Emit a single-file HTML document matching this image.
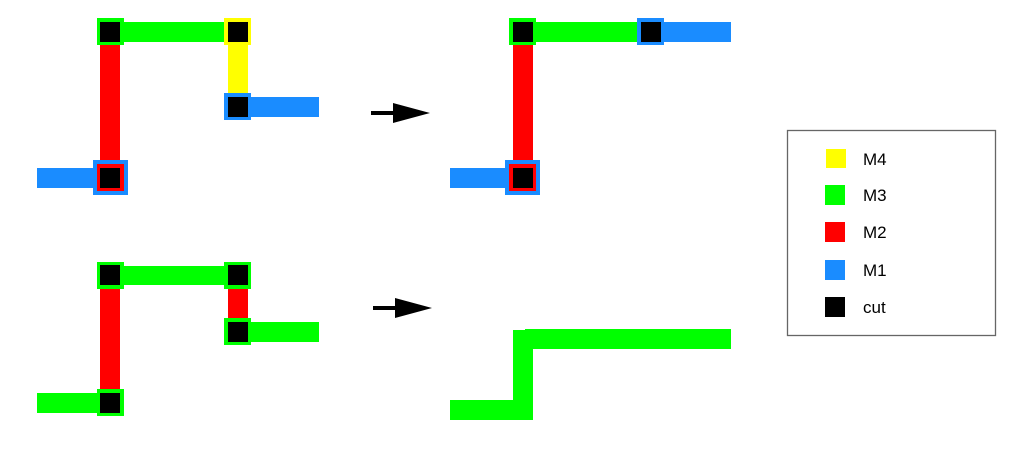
<!DOCTYPE html>
<html><head><meta charset="utf-8"><style>
html,body{margin:0;padding:0;background:#fff;width:1013px;height:453px;overflow:hidden}
svg{display:block}
text{font-family:"Liberation Sans",sans-serif;font-size:17px;fill:#000}
</style></head><body>
<svg width="1013" height="453" viewBox="0 0 1013 453" xmlns="http://www.w3.org/2000/svg">
<!-- top-left -->
<rect x="100" y="44" width="20" height="120" fill="#f00"/>
<rect x="120" y="22" width="106" height="20" fill="#0f0"/>
<rect x="228" y="44" width="20" height="50" fill="#ff0"/>
<rect x="250" y="97" width="69" height="20" fill="#1a8cff"/>
<rect x="37" y="168" width="60" height="20" fill="#1a8cff"/>
<rect x="97" y="18" width="27" height="27" fill="#0f0"/><rect x="100" y="22" width="20" height="20" fill="#000"/>
<rect x="224" y="18" width="27" height="27" fill="#ff0"/><rect x="228" y="22" width="20" height="20" fill="#000"/>
<rect x="224" y="93" width="27" height="27" fill="#1a8cff"/><rect x="228" y="97" width="20" height="20" fill="#000"/>
<rect x="93" y="160" width="35" height="35" fill="#1a8cff"/><rect x="97" y="164" width="27" height="27" fill="#f00"/><rect x="100" y="168" width="20" height="20" fill="#000"/>
<!-- top-right -->
<rect x="513" y="44" width="20" height="120" fill="#f00"/>
<rect x="535" y="22" width="104" height="20" fill="#0f0"/>
<rect x="663" y="22" width="68" height="20" fill="#1a8cff"/>
<rect x="450" y="168" width="57" height="20" fill="#1a8cff"/>
<rect x="509" y="18" width="27" height="27" fill="#0f0"/><rect x="513" y="22" width="20" height="20" fill="#000"/>
<rect x="637" y="18" width="27" height="27" fill="#1a8cff"/><rect x="641" y="22" width="20" height="20" fill="#000"/>
<rect x="505" y="160" width="35" height="35" fill="#1a8cff"/><rect x="509" y="164" width="27" height="27" fill="#f00"/><rect x="513" y="168" width="20" height="20" fill="#000"/>
<!-- bottom-left -->
<rect x="100" y="288" width="20" height="102" fill="#f00"/>
<rect x="120" y="266" width="106" height="19" fill="#0f0"/>
<rect x="228" y="288" width="20" height="32" fill="#f00"/>
<rect x="250" y="322" width="69" height="20" fill="#0f0"/>
<rect x="37" y="393" width="62" height="20" fill="#0f0"/>
<rect x="97" y="262" width="27" height="27" fill="#0f0"/><rect x="100" y="265" width="20" height="20" fill="#000"/>
<rect x="224" y="262" width="27" height="27" fill="#0f0"/><rect x="228" y="265" width="20" height="20" fill="#000"/>
<rect x="224" y="318" width="27" height="27" fill="#0f0"/><rect x="228" y="322" width="20" height="20" fill="#000"/>
<rect x="97" y="389" width="27" height="27" fill="#0f0"/><rect x="100" y="393" width="20" height="20" fill="#000"/>
<!-- bottom-right -->
<rect x="525" y="329" width="206" height="20" fill="#0f0"/>
<rect x="513" y="330" width="20" height="90" fill="#0f0"/>
<rect x="450" y="400" width="83" height="20" fill="#0f0"/>
<!-- arrows -->
<rect x="371" y="111" width="24" height="4" fill="#000"/>
<polygon points="393,103 430,113 393,123" fill="#000"/>
<rect x="373" y="306" width="24" height="4" fill="#000"/>
<polygon points="395,298 432,308 395,318" fill="#000"/>
<!-- legend -->
<rect x="787.5" y="130.5" width="208" height="205" fill="#fff" stroke="#666" stroke-width="1.3"/>
<rect x="826" y="149" width="20" height="19" fill="#ff0"/>
<rect x="825" y="185" width="20" height="20" fill="#0f0"/>
<rect x="825" y="222" width="20" height="20" fill="#f00"/>
<rect x="825" y="260" width="20" height="20" fill="#1a8cff"/>
<rect x="825" y="297" width="20" height="20" fill="#000"/>
<text x="863" y="165">M4</text>
<text x="863" y="201">M3</text>
<text x="863" y="238">M2</text>
<text x="863" y="276">M1</text>
<text x="863" y="313">cut</text>
</svg>
</body></html>
